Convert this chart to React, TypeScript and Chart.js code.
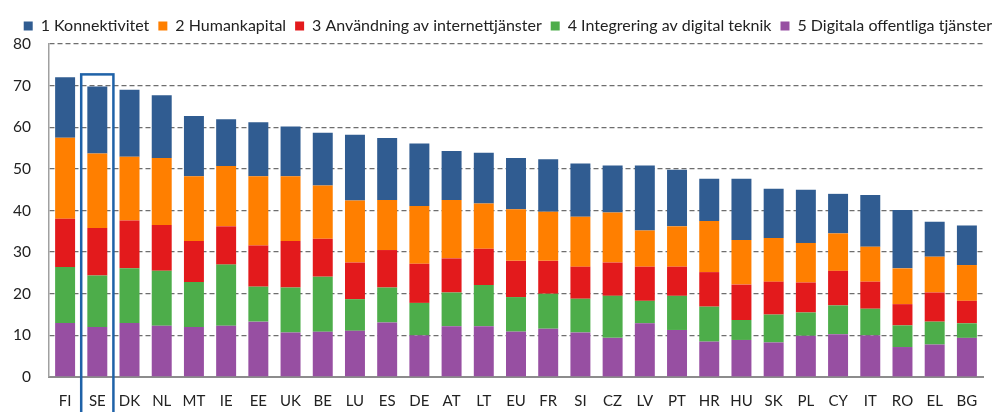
import { useEffect, useRef } from "react";
import { Chart, registerables } from "chart.js";
Chart.register(...registerables);

const categories = ["FI","SE","DK","NL","MT","IE","EE","UK","BE","LU","ES","DE","AT","LT","EU","FR","SI","CZ","LV","PT","HR","HU","SK","PL","CY","IT","RO","EL","BG"];
const seriesNames = ["1 Konnektivitet","2 Humankapital","3 Användning av internettjänster","4 Integrering av digital teknik","5 Digitala offentliga tjänster"];
const konnektivitet = [14.5,16.1,16.1,15.1,14.5,11.2,13.0,12.0,12.7,15.8,14.9,15.0,11.8,12.2,12.3,12.6,12.8,11.3,15.6,13.6,10.1,14.7,11.8,12.8,9.5,12.4,14.0,8.4,9.5];
const humankapital = [19.5,17.9,15.3,16.1,15.5,14.5,16.6,15.5,12.8,14.9,12.0,13.9,14.0,10.9,12.4,11.8,12.0,12.0,8.7,9.7,12.3,10.7,10.5,9.5,9.0,8.4,8.6,8.6,8.6];
const anvandning = [11.6,11.4,11.5,11.0,9.9,9.2,9.9,11.2,9.1,8.8,9.0,9.4,8.2,8.7,8.7,7.9,7.7,8.0,8.2,7.0,8.3,8.5,7.9,7.2,8.3,6.5,5.1,7.0,5.4];
const integrering = [13.4,12.4,13.1,13.2,10.8,14.7,8.4,10.8,13.2,7.6,8.4,7.8,8.1,9.9,8.3,8.4,8.1,10.1,5.4,8.2,8.4,4.8,6.7,5.6,6.9,6.4,5.2,5.5,3.5];
const offentliga = [13.0,12.0,13.0,12.3,12.0,12.3,13.3,10.7,10.9,11.1,13.1,10.0,12.2,12.2,10.9,11.6,10.7,9.4,12.9,11.3,8.5,8.9,8.3,9.9,10.3,10.0,7.2,7.8,9.4];
const yTicks = [0,10,20,30,40,50,60,70,80];
const highlightIndex = 1;
const highlightTop = 72.7;

const colors = ["#305C91","#FF7F00","#E31A1C","#4DAD4A","#974FA2"];

const highlightPlugin = {
  id: "highlight",
  afterDatasetsDraw(chart: any) {
    const x = chart.scales.x;
    const y = chart.scales.y;
    const cx = x.getPixelForValue(highlightIndex);
    const w = (x.getPixelForValue(1) - x.getPixelForValue(0));
    const top = y.getPixelForValue(highlightTop);
    const ctx = chart.ctx;
    ctx.save();
    ctx.strokeStyle = "#1F62A8";
    ctx.lineWidth = 2.5;
    ctx.strokeRect(cx - w / 2, top, w, chart.height + 10 - top);
    ctx.restore();
  },
};

export default function App() {
  const ref = useRef<HTMLCanvasElement>(null);
  useEffect(() => {
    document.body.style.margin = "0";
    const values = [offentliga, integrering, anvandning, humankapital, konnektivitet];
    const names = [seriesNames[4], seriesNames[3], seriesNames[2], seriesNames[1], seriesNames[0]];
    const cols = [colors[4], colors[3], colors[2], colors[1], colors[0]];
    const chart = new Chart(ref.current!, {
      type: "bar",
      data: {
        labels: categories,
        datasets: values.map((v, i) => ({
          label: names[i],
          data: v,
          backgroundColor: cols[i],
          borderWidth: 0,
          barPercentage: 0.62,
          categoryPercentage: 1,
        })),
      },
      options: {
        animation: false,
        responsive: false,
        maintainAspectRatio: false,
        layout: { padding: { left: 0, right: 0, top: 9, bottom: 0 } },
        plugins: {
          tooltip: { enabled: false },
          legend: {
            position: "top",
            align: "end",
            reverse: true,
            labels: {
              boxWidth: 9,
              boxHeight: 9,
              padding: 9,
              color: "#222",
              font: { family: "Lato", size: 16 },
            },
          },
        },
        scales: {
          x: {
            stacked: true,
            grid: { display: false, drawTicks: false },
            border: { display: true, color: "#8c8c8c", width: 2 },
            ticks: { color: "#222", font: { family: "Lato", size: 15 }, padding: 15, maxRotation: 0, autoSkip: false },
            afterFit: (s: any) => { s.height = 35; },
          },
          y: {
            stacked: true,
            min: 0,
            max: 80,
            afterBuildTicks: (s: any) => { s.ticks = yTicks.map((v) => ({ value: v })); },
            grid: {
              drawTicks: false,
              color: (c: any) => (c.tick && c.tick.value === 0 ? "rgba(0,0,0,0)" : "#6e6e6e"),
              lineWidth: 1.3,
            },
            border: { display: true, color: "#a0a0a0", width: 1.5, dash: [5, 3] },
            ticks: { color: "#222", font: { family: "Lato", size: 15.5 }, padding: 18 },
            afterFit: (s: any) => { s.width = 49; },
          },
          yRight: {
            position: "right",
            min: 0,
            max: 80,
            grid: { display: false, drawTicks: false },
            border: { display: false },
            ticks: { display: false },
            afterFit: (s: any) => { s.width = 18; },
          },
        },
      },
      plugins: [highlightPlugin],
    });
    return () => chart.destroy();
  }, []);
  return (
    <div style={{ position: "absolute", left: 0, top: 0, width: 1001, height: 412 }}>
      <canvas ref={ref} width={1001} height={412} style={{ display: "block" }} />
    </div>
  );
}
